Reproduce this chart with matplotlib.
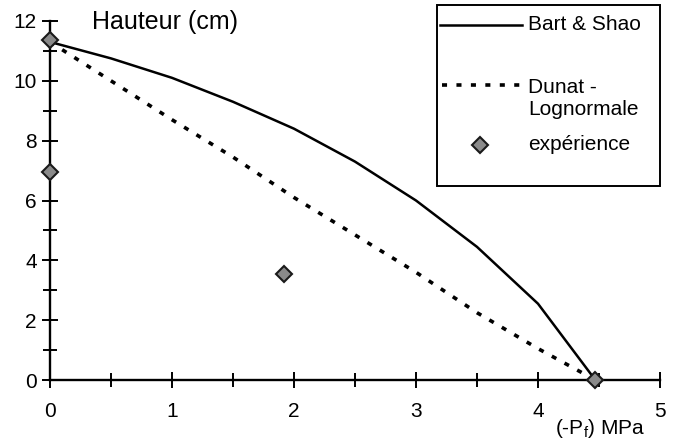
import numpy as np
import matplotlib
matplotlib.use("Agg")
import matplotlib.pyplot as plt
from matplotlib.lines import Line2D
from matplotlib.patches import Rectangle
from matplotlib.ticker import MultipleLocator

plt.rcParams['font.family'] = ['Liberation Sans', 'DejaVu Sans']
plt.rcParams['mathtext.fontset'] = 'custom'
plt.rcParams['mathtext.rm'] = 'Liberation Sans'

# Bart & Shao model curve
bart_x = [0, 0.5, 1, 1.5, 2, 2.5, 3, 3.5, 4, 4.47]
bart_y = [11.3, 10.75, 10.1, 9.3, 8.4, 7.3, 6.0, 4.45, 2.55, 0]

# Dunat - Lognormale model curve
dunat_x = [0, 0.5, 1, 1.5, 2, 2.5, 3, 3.5, 4, 4.47]
dunat_y = [11.3, 10.0, 8.7, 7.45, 6.1, 4.85, 3.6, 2.25, 1.05, 0]

# experimental points
exp_x = [0, 0, 1.92, 4.47]
exp_y = [11.35, 6.95, 3.55, 0]

fig = plt.figure(figsize=(6.74, 4.45), dpi=100)
ax = fig.add_axes([50/674, 65/445, 610/674, 359/445])

dash = (0, (1.4, 2.6))
ax.plot(bart_x, bart_y, color="black", lw=1.8, clip_on=False)
ax.plot(dunat_x, dunat_y, color="black", lw=2.6, ls=dash, clip_on=False)
ax.plot(exp_x, exp_y, ls="none", marker="D", ms=8.5, mfc="#8a8a8a", mec="#1a1a1a",
        mew=1.5, clip_on=False, zorder=5)

ax.set_xlim(0, 5)
ax.set_ylim(0, 12)
for s in ["top", "right"]:
    ax.spines[s].set_visible(False)
for s in ["left", "bottom"]:
    ax.spines[s].set_linewidth(1.7)

ax.xaxis.set_major_locator(MultipleLocator(1))
ax.xaxis.set_minor_locator(MultipleLocator(0.5))
ax.yaxis.set_major_locator(MultipleLocator(2))
ax.yaxis.set_minor_locator(MultipleLocator(1))
ax.tick_params(which="major", direction="inout", length=11, width=1.4, labelsize=15)
ax.tick_params(which="minor", direction="inout", length=10, width=1.4)
ax.tick_params(axis="x", which="major", pad=10)
ax.tick_params(axis="y", which="major", pad=4)

fig.text(92/674, (445-22)/445, "Hauteur (cm)", fontsize=18, va="center", ha="left")
fig.text(600/674, (445-428)/445, "(-P$_{\\mathregular{f}}$) MPa", fontsize=15,
         va="center", ha="center")

# legend box drawn by hand
fig.add_artist(Rectangle((437/674, (445-186)/445), 223/674, 181/445,
                         transform=fig.transFigure, fill=False, lw=1.4, ec="black"))
fig.add_artist(Line2D([440/674, 522/674], [(445-25)/445]*2, transform=fig.transFigure,
                      color="black", lw=1.8))
fig.add_artist(Line2D([442/674, 522/674], [(445-85)/445]*2, transform=fig.transFigure,
                      color="black", lw=2.6, ls=dash))
fig.add_artist(Line2D([480/674], [(445-145)/445], transform=fig.transFigure, ls="none",
                      marker="D", ms=8.5, mfc="#8a8a8a", mec="#1a1a1a", mew=1.5))
fig.text(528/674, (445-25)/445, "Bart & Shao", fontsize=15, va="center")
fig.text(528/674, (445-98.5)/445, "Dunat -\nLognormale", fontsize=15, va="center",
         linespacing=1.25)
fig.text(528/674, (445-145)/445, "expérience", fontsize=15, va="center")

fig.savefig("out.png", dpi=100)
